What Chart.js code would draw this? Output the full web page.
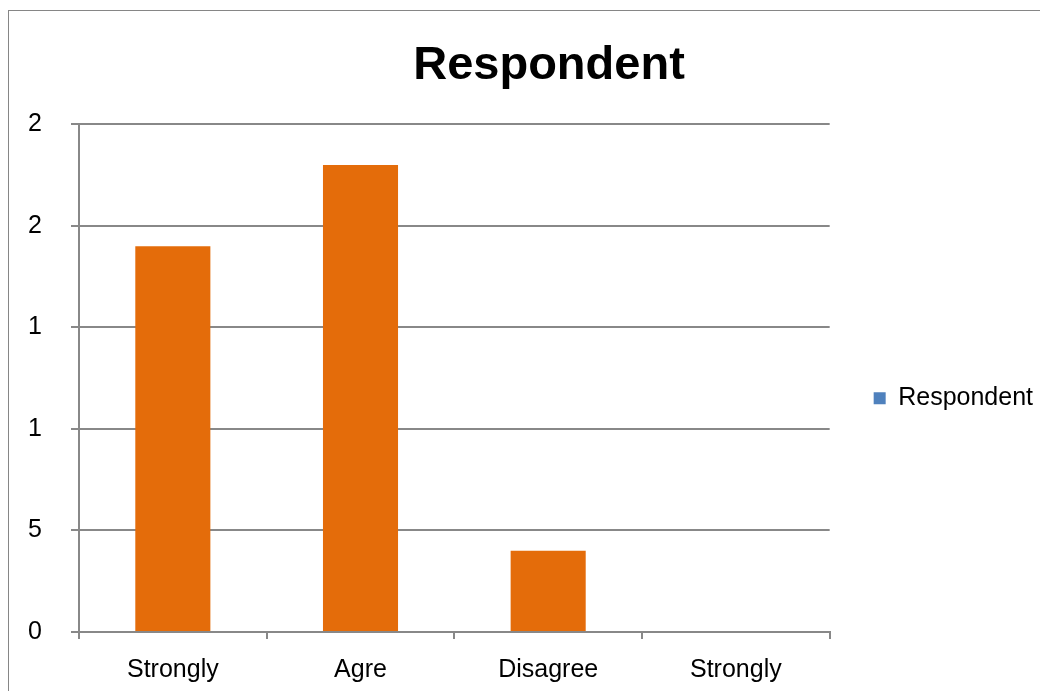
<!DOCTYPE html>
<html>
<head>
<meta charset="utf-8">
<script src="https://cdn.jsdelivr.net/npm/chart.js@4"></script>
<style>
  html, body { margin: 0; padding: 0; background: #fff; overflow: hidden; }
  #frame {
    position: absolute; left: 8px; top: 10px;
    width: 1082px; height: 694px;
    border: 1px solid #868686; box-sizing: border-box;
  }
  #frame canvas { position: absolute; left: 0; top: 0; }
</style>
</head>
<body>
<div id="frame"><canvas id="respChart"></canvas></div>
<script>
const categories = ['Strongly', 'Agre', 'Disagree', 'Strongly'];
const respondents = [19, 23, 4, 0];
const yTickLabels = ['0', '5', '1', '1', '2', '2'];

const FONT = "'Liberation Sans', Arial, sans-serif";
const GRID = '#888888';

const canvas = document.getElementById('respChart');
canvas.width = 1034;
canvas.height = 690;
canvas.style.width = '1034px';
canvas.style.height = '690px';

const chart = new Chart(canvas.getContext('2d'), {
    type: 'bar',
    data: {
        labels: categories,
        datasets: [{
            label: 'Respondent',
            data: respondents,
            backgroundColor: '#E46C0A',
            borderWidth: 0,
            barPercentage: 0.4,
            categoryPercentage: 1.0
        }]
    },
    options: {
        responsive: false,
        animation: false,
        layout: { padding: { left: 46, right: 0, top: 0, bottom: 0 } },
        plugins: {
            tooltip: { enabled: false },
            title: {
                display: true,
                text: 'Respondent',
                color: '#000',
                font: { family: FONT, size: 47, weight: 'bold' },
                padding: { top: 27, bottom: 30 }
            },
            legend: {
                position: 'right',
                // empty title just pushes the single entry down a bit
                title: { display: true, text: '', padding: { top: 70, bottom: 0 } },
                labels: {
                    color: '#000',
                    font: { family: FONT, size: 25 },
                    boxWidth: 12,
                    boxHeight: 12,
                    padding: 44,
                    generateLabels: (c) => {
                        const items = Chart.defaults.plugins.legend.labels.generateLabels(c);
                        items.forEach(it => {
                            it.fillStyle = '#4F81BD';
                            it.strokeStyle = '#4F81BD';
                            it.lineWidth = 0;
                        });
                        return items;
                    }
                }
            }
        },
        scales: {
            x: {
                offset: true,
                grid: {
                    offset: true,
                    drawOnChartArea: false,
                    drawTicks: true,
                    tickLength: 7,
                    color: GRID,
                    lineWidth: 2
                },
                border: { display: true, color: GRID, width: 2 },
                ticks: {
                    color: '#000',
                    font: { family: FONT, size: 25 },
                    padding: 16,
                    maxRotation: 0,
                    autoSkip: false
                }
            },
            y: {
                min: 0,
                max: 25,
                afterFit: (s) => { s.width = 24; },
                grid: {
                    color: GRID,
                    lineWidth: 2,
                    tickLength: 8
                },
                border: { display: true, color: GRID, width: 2 },
                ticks: {
                    stepSize: 5,
                    color: '#000',
                    font: { family: FONT, size: 25 },
                    // mirrored + negative padding puts the numbers out in the left margin
                    mirror: true,
                    crossAlign: 'near',
                    padding: -51,
                    callback: (v) => yTickLabels[v / 5]
                }
            }
        }
    }
});
</script>
</body>
</html>
